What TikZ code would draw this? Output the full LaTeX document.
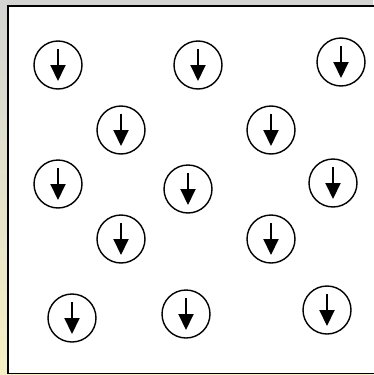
\documentclass[tikz,border=0pt]{standalone}
\usetikzlibrary{arrows.meta}
\definecolor{slidegray}{RGB}{212,212,210}
\definecolor{slidecream}{RGB}{246,240,196}

\begin{document}
\begin{tikzpicture}[x=1pt,y=-1pt,
    spin/.style={draw,circle,line width=1.4pt,minimum size=48pt,inner sep=0pt},
    spinarrow/.style={line width=2pt,-{Triangle[width=15pt,length=16pt]}}]
  \useasboundingbox (0,0) rectangle (373,375);
  % slide background and frame
  \shade[top color=slidegray,bottom color=slidecream] (0,0) rectangle (373,375);
  \filldraw[fill=white,draw=black,line width=1.4pt] (8,6) rectangle (390,373.5);
  % spins, all pointing down
  \foreach \n/\x/\y in {a/58/65,b/198/65,c/341/62,
                         d/121/130,e/271/130,
                         f/58/184,g/188/189,h/333/183,
                         i/121/239,j/271/239,
                         k/72/318,l/186/314,m/327/310}{
    \node[spin] (\n) at (\x,\y) {};
    \draw[spinarrow] ([yshift=16pt]\n.center) -- ([yshift=-16pt]\n.center);
  }
\end{tikzpicture}
\end{document}
